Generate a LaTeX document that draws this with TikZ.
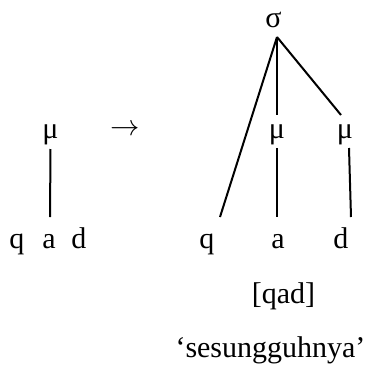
\documentclass[tikz,border=0pt]{standalone}
\usepackage{fontspec}
\setmainfont{Liberation Serif}
\usetikzlibrary{calc}

\begin{document}
\begin{tikzpicture}[
  x=0.75pt, y=-0.75pt,
  seg/.style={font=\fontsize{22.5}{27}\selectfont, inner sep=0pt, anchor=base},
  branch/.style={line width=1.5pt}
]
\useasboundingbox (0,0) rectangle (369,365);

\node[seg] (mu0) at (50.5,138.5) {μ};
\node[seg] (q0) at (17,248) {q};
\node[seg] (a0) at (49,248) {a};
\node[seg] (d0) at (79,248) {d};

\node[inner sep=0pt] (arrow) at (125,130) {\scalebox{2.2}{$\rightarrow$}};

\node[seg] (sigma) at (273.5,27) {σ};
\node[seg] (mu1) at (277,138.5) {μ};
\node[seg] (mu2) at (345,138.5) {μ};
\node[seg] (q1) at (207,248) {q};
\node[seg] (a1) at (278,248) {a};
\node[seg] (d1) at (341,248) {d};
\node[seg] (qad) at (283.5,303) {[qad]};
\node[seg] (gloss) at (270.5,357) {‘sesungguhnya’};

\draw[branch] ($(mu0.base)+(0,10.5)$) -- ($(a0.base)+(1,-31)$);

\draw[branch] ($(sigma.base)+(3.5,10)$) -- ($(q1.base)+(13,-31)$);
\draw[branch] ($(sigma.base)+(3.5,10)$) -- ($(mu1.base)+(0,-23.5)$);
\draw[branch] ($(sigma.base)+(3.5,10)$) -- ($(mu2.base)+(-4,-23.5)$);
\draw[branch] ($(mu1.base)+(0,9.5)$) -- ($(a1.base)+(-1,-31)$);
\draw[branch] ($(mu2.base)+(4,9.5)$) -- ($(d1.base)+(10,-31)$);
\end{tikzpicture}
\end{document}
